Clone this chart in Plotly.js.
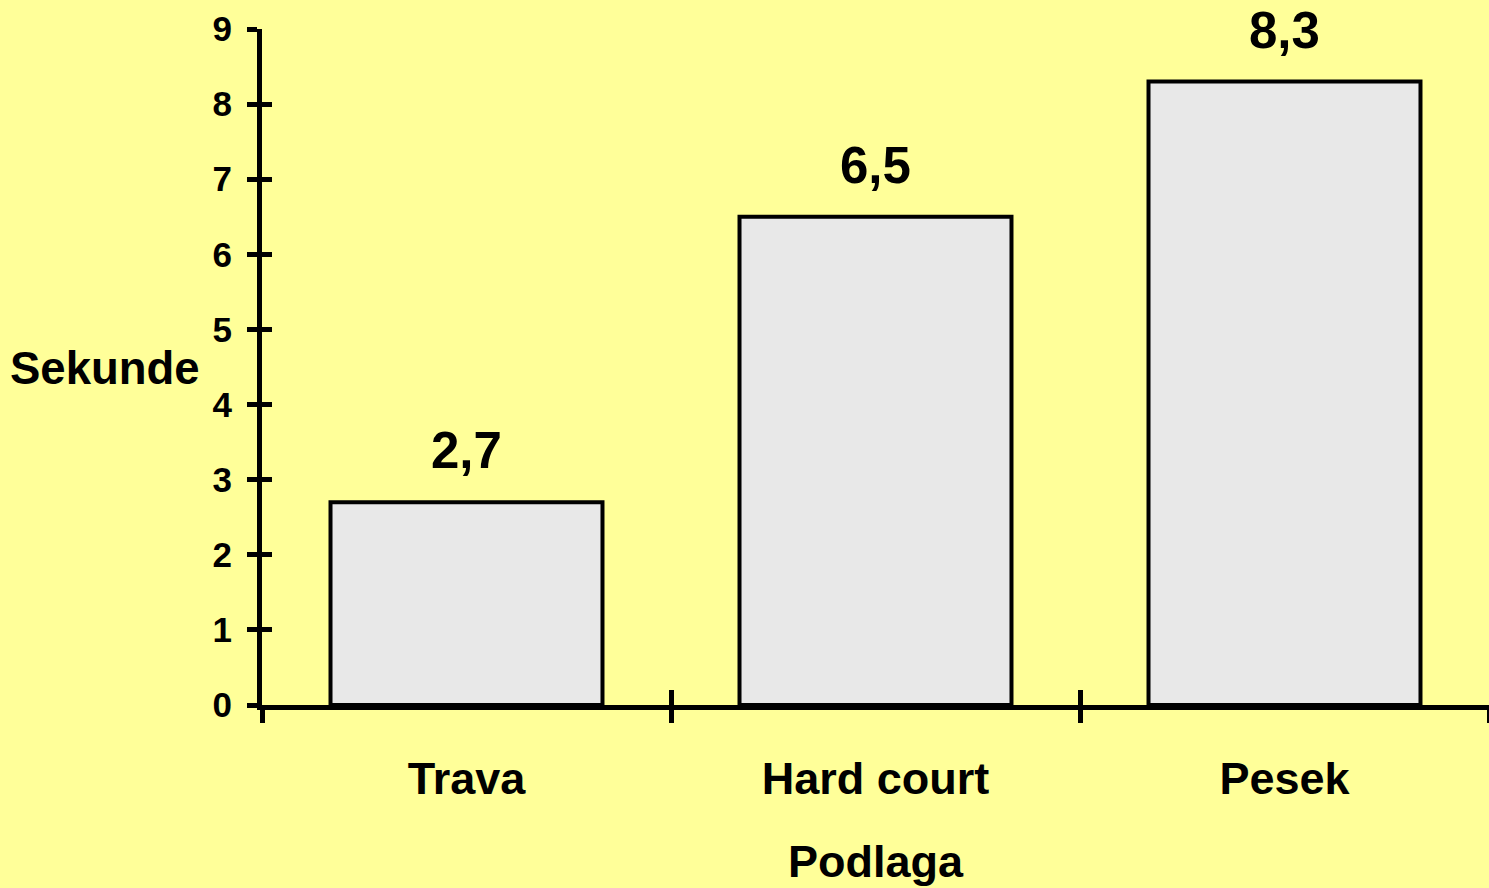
<!DOCTYPE html>
<html>
<head>
<meta charset="utf-8">
<script src="https://cdn.plot.ly/plotly-3.0.1.min.js"></script>
<style>html,body{margin:0;padding:0;background:#FFFF99;}#chart{width:1489px;height:888px;}</style>
</head>
<body>
<div id="chart"></div>
<script>
const categories = ["Trava", "Hard court", "Pesek"];
const values = [2.7, 6.5, 8.3];
const yTicks = [0, 1, 2, 3, 4, 5, 6, 7, 8, 9];
const xTitle = "Podlaga";
const yTitle = "Sekunde";

const fontFam = "Liberation Sans, Arial, sans-serif";
const valueLabels = values.map(v => v.toFixed(1).replace('.', ','));

const bars = {
  type: 'bar', x: categories, y: values,
  marker: {color: '#E8E8E8', line: {color: '#000000', width: 4}},
  hoverinfo: 'skip', showlegend: false
};
const ghost = {
  type: 'bar', x: categories, y: values, xaxis: 'x2', yaxis: 'y2',
  marker: {color: 'rgba(0,0,0,0)'}, hoverinfo: 'skip', showlegend: false
};

const annotations = categories.map((c, i) => ({
  x: c, y: values[i], xref: 'x', yref: 'y', text: valueLabels[i],
  showarrow: false, yanchor: 'bottom', yshift: 21,
  font: {family: fontFam, size: 51, color: '#000', weight: 'bold'}
}));
annotations.push({
  x: -0.128, y: 0.4985, xref: 'paper', yref: 'paper', text: yTitle,
  showarrow: false, xanchor: 'center', yanchor: 'middle',
  font: {family: fontFam, size: 45.5, color: '#000', weight: 'bold'}
});
annotations.push({
  x: 0.5004, y: -0.232, xref: 'paper', yref: 'paper', text: xTitle,
  showarrow: false, xanchor: 'center', yanchor: 'middle',
  font: {family: fontFam, size: 45, color: '#000', weight: 'bold'}
});

const layout = {
  width: 1489, height: 888,
  margin: {l: 262, r: 0, t: 29, b: 183, pad: 0},
  paper_bgcolor: '#FFFF99', plot_bgcolor: '#FFFF99',
  bargap: 0.335,
  showlegend: false,
  xaxis: {
    type: 'category', categoryarray: categories,
    showline: true, linecolor: '#000', linewidth: 5,
    ticks: 'outside', tickson: 'boundaries', ticklen: 13, tickwidth: 5, tickcolor: '#000',
    ticklabelstandoff: 30,
    tickfont: {family: fontFam, size: 45, color: '#000', weight: 'bold'},
    showgrid: false, zeroline: false, fixedrange: true
  },
  yaxis: {
    range: [0, 9], tickvals: yTicks, ticktext: yTicks.map(String),
    showline: true, linecolor: '#000', linewidth: 5,
    ticks: 'outside', ticklen: 10, tickwidth: 5, tickcolor: '#000',
    ticklabelstandoff: 8,
    tickfont: {family: fontFam, size: 35, color: '#000', weight: 'bold'},
    showgrid: false, zeroline: false, fixedrange: true
  },
  xaxis2: {
    type: 'category', categoryarray: categories, overlaying: 'x', matches: 'x',
    ticks: 'inside', tickson: 'boundaries', ticklen: 15, tickwidth: 5, tickcolor: '#000',
    showticklabels: false, showline: false, showgrid: false, zeroline: false
  },
  yaxis2: {
    range: [0, 9], tickvals: yTicks, overlaying: 'y', matches: 'y',
    ticks: 'inside', ticklen: 10, tickwidth: 5, tickcolor: '#000',
    showticklabels: false, showline: false, showgrid: false, zeroline: false
  },
  annotations: annotations
};

Plotly.newPlot('chart', [bars, ghost], layout, {displayModeBar: false, staticPlot: true});
</script>
</body>
</html>
